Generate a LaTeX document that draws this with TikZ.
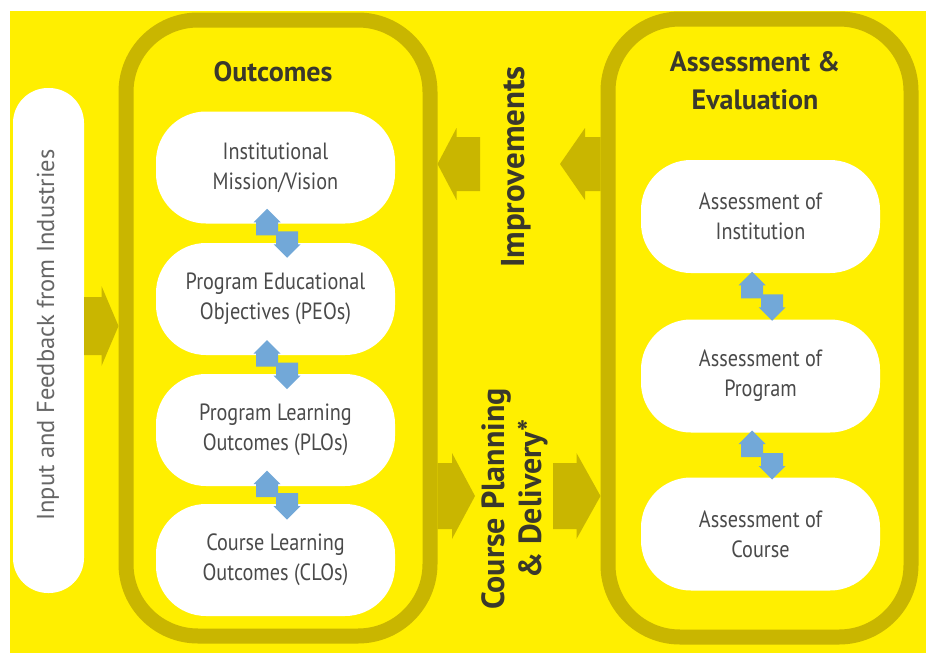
\documentclass[tikz,border=0pt]{standalone}
\usepackage{fontspec}
\setmainfont{PT Sans}[FakeStretch=0.86]
\newfontfamily\widesans{PT Sans}
\usetikzlibrary{calc}

\definecolor{bgyellow}{HTML}{FFEF00}
\definecolor{frameolive}{HTML}{C9B600}
\definecolor{linkblue}{HTML}{72A8D8}
\definecolor{boxtext}{HTML}{4A4A4A}
\definecolor{titletext}{HTML}{3A382C}
\definecolor{sidetext}{HTML}{666666}

% two offset block arrows (up on the left, down on the right) between two stacked cards
\newcommand\twoway[2]{%
  \path ($(#1.south)!0.5!(#2.north)$) ++(1.5,0) coordinate (g);
  \fill[linkblue] ($(g)+(-10,24.5)$) -- ($(g)+(3.5,11)$) -- ($(g)+(1,11)$) -- ($(g)+(1,-2)$)
     -- ($(g)+(-21,-2)$) -- ($(g)+(-21,11)$) -- ($(g)+(-23.5,11)$) -- cycle;
  \fill[linkblue] ($(g)+(10,-24.5)$) -- ($(g)+(23.5,-11)$) -- ($(g)+(21,-11)$) -- ($(g)+(21,2)$)
     -- ($(g)+(-1,2)$) -- ($(g)+(-1,-11)$) -- ($(g)+(-3.5,-11)$) -- cycle;
}

% horizontal block arrow: #1 tail, #2 tip, #3 body half height, #4 head half height, #5 head length
\newcommand\bigarrow[5]{%
  \path #1 coordinate (a0) #2 coordinate (a1) ($(a1)!#5pt!(a0)$) coordinate (ab);
  \fill[frameolive] ($(a0)+(0,#3)$) -- ($(ab)+(0,#3)$) -- ($(ab)+(0,#4)$) -- (a1)
     -- ($(ab)+(0,-#4)$) -- ($(ab)+(0,-#3)$) -- ($(a0)+(0,-#3)$) -- cycle;
}

\tikzset{
  frame/.style={draw=frameolive, fill=bgyellow, line width=15pt, rounded corners=72pt, inner sep=0pt},
  card/.style={fill=white, rounded corners=50pt, minimum width=239pt, minimum height=112pt,
    inner sep=0pt, align=center, text=boxtext, font=\fontsize{23.5}{30}\selectfont},
  title/.style={align=center, text=titletext, font=\widesans\bfseries\fontsize{28}{38}\selectfont, inner sep=0pt},
  sidetitle/.style={align=center, text=titletext, rotate=90, font=\widesans\bfseries\fontsize{33}{38}\selectfont, inner sep=0pt},
}

\begin{document}
\begin{tikzpicture}[x=1pt,y=1pt]
\useasboundingbox (0,0) rectangle (926,-653);
\fill[white] (0,0) rectangle (926,-653);
\fill[bgyellow] (10,-11) rectangle (926,-653);

% side column
\node[fill=white, rounded corners=35pt, minimum width=71pt, minimum height=505pt, inner sep=0pt]
  (input) at (48.5,-340.5) {};
\node[rotate=90, text=sidetext, font=\widesans\fontsize{24.5}{28}\selectfont] (inputlabel) at (48,-335)
  {Input and Feedback from Industries};

% the two loops
\node[frame, minimum width=304pt, minimum height=616pt] (outc) at (278,-328) {};
\node[frame, minimum width=303pt, minimum height=618pt] (ae) at (759.5,-328) {};

% olive flow arrows
\coordinate (impA) at (480,-164);
\coordinate (impB) at (560,-164);
\coordinate (cpdA) at (475,-496);
\coordinate (cpdB) at (553,-496);
\bigarrow{(input.east |- 0,-326)}{(outc.west |- 0,-326)}{29}{40}{17}
\bigarrow{(impA)}{(outc.east |- 0,-164)}{27}{36}{19}
\bigarrow{(ae.west |- 0,-164)}{(impB)}{27}{36}{25}
\bigarrow{(outc.east |- 0,-496)}{(cpdA)}{33}{43}{23}
\bigarrow{(cpdB)}{(ae.west |- 0,-496)}{33}{43}{24}

% titles
\node[title] (outtitle) at (273,-72) {Outcomes};
\node[title] (aetitle) at (755,-81) {Assessment \&\\Evaluation};
\node[sidetitle] (improve) at (516,-167) {Improvements};
\node[sidetitle, font=\widesans\bfseries\fontsize{32}{37}\selectfont] (cpd) at (515,-499) {Course Planning\\\& Delivery*};

% outcome cards
\node[card] (o1) at (275.5,-167.5) {Institutional\\Mission/Vision};
\node[card] (o2) at (275.5,-299) {Program Educational\\Objectives (PEOs)};
\node[card] (o3) at (275.5,-430) {Program Learning\\Outcomes (PLOs)};
\node[card] (o4) at (275.5,-560) {Course Learning\\Outcomes (CLOs)};

% assessment cards
\node[card, minimum height=113pt] (a1) at (760.5,-216.5) {Assessment of\\Institution};
\node[card, minimum height=113pt] (a2) at (760.5,-376) {Assessment of\\Program};
\node[card, minimum height=113pt] (a3) at (760.5,-534) {Assessment of\\Course};

% links between stacked cards
\twoway{o1}{o2}
\twoway{o2}{o3}
\twoway{o3}{o4}
\twoway{a1}{a2}
\twoway{a2}{a3}
\end{tikzpicture}
\end{document}
